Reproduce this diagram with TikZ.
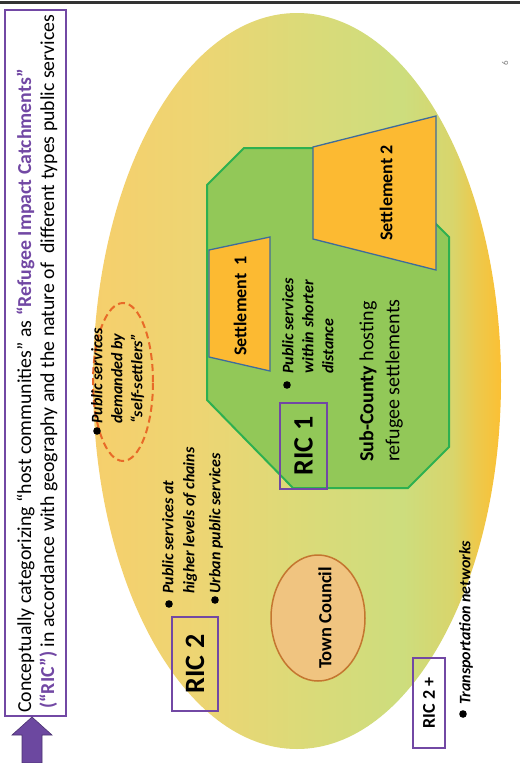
\documentclass[tikz,border=0pt]{standalone}
\usepackage{fontspec}
\setmainfont{Carlito}
\usetikzlibrary{arrows.meta,shapes.geometric}
\definecolor{ricpurple}{RGB}{114,72,164}
\definecolor{arrowpurple}{RGB}{108,72,160}
\definecolor{subgreen}{RGB}{146,200,88}
\definecolor{subedge}{RGB}{45,176,80}
\definecolor{settfill}{RGB}{252,186,50}
\definecolor{settedge}{RGB}{62,108,155}
\definecolor{tcfill}{RGB}{240,196,128}
\definecolor{tcedge}{RGB}{196,118,48}
\definecolor{dashorange}{RGB}{232,106,40}
\definecolor{ea}{HTML}{F6CF6C}
\definecolor{eb}{HTML}{EDD573}
\definecolor{ec}{HTML}{DCDA78}
\definecolor{ed}{HTML}{CDDD7D}
\definecolor{ee}{HTML}{D8D56C}
\definecolor{ef}{HTML}{EDC94C}
\definecolor{eg}{HTML}{FBC034}
\pgfdeclarehorizontalshading{ellshade}{100bp}{color(0bp)=(ea); color(25bp)=(ea); color(38bp)=(eb); color(50bp)=(ec); color(63bp)=(ed); color(69bp)=(ee); color(72bp)=(ef); color(75bp)=(eg); color(100bp)=(eg)}
\tikzset{
  ricbox/.style={draw=ricpurple, line width=2.5pt, rotate=90, inner sep=0pt, font=\bfseries\fontsize{28}{30}\selectfont},
  setlabel/.style={rotate=90, inner sep=0pt, font=\bfseries\fontsize{18}{20}\selectfont},
  btxt/.style={rotate=90, align=left, inner sep=0pt, anchor=north west, font=\bfseries\itshape\fontsize{16}{20}\selectfont},
  settshape/.style={draw=settedge, line width=1.3pt, fill=settfill},
  bul/.style={fill=black},
  titletxt/.style={rotate=90, anchor=base west, inner sep=0pt, font=\fontsize{19.8}{22}\selectfont}
}
\begin{document}
\begin{tikzpicture}[x=1pt,y=-1pt]
\useasboundingbox (0,0) rectangle (520,763);
% top rule
\draw[line width=3pt, black!80] (0,2) -- (520,2);
% big ellipse
\shade[shading=ellshade] (297,381) ellipse [x radius=204pt, y radius=368pt];
% sub-county
\draw[subedge, line width=2pt, fill=subgreen] (244,148) -- (360,148) -- (449,237) -- (449,447) -- (408,488) -- (293,488) -- (207,400) -- (207,185) -- cycle;
% settlements
\draw[settshape] (209,250) -- (270,237) -- (270,371) -- (209,357) -- cycle;
\draw[settshape] (313,147) -- (436,116) -- (436,270) -- (313,239) -- cycle;
\node[setlabel] (s1) at (240,306) {Settlement\ \ 1};
\node[setlabel] (s2) at (386,193) {Settlement 2};
% town council
\draw[tcedge, line width=1.5pt, fill=tcfill] (318,618) ellipse [x radius=47pt, y radius=63pt];
\node[setlabel, font=\bfseries\fontsize{18.5}{20}\selectfont] (tc) at (325,618) {Town Council};
% dashed ellipse
\draw[dashorange, line width=2pt, dash pattern=on 7pt off 4pt] (123,382) ellipse [x radius=30pt, y radius=79pt];
% sub-county text
\node[rotate=90, align=left, inner sep=0pt, anchor=west, font=\fontsize{20}{26}\selectfont] (sc) at (381,462) {\textbf{Sub-County} hosting\\refugee settlements};
% RIC boxes
\node[ricbox, minimum width=86pt, minimum height=47pt] (ric1) at (303.5,446) {RIC 1};
\node[ricbox, minimum width=94pt, minimum height=46pt] (ric2) at (195,664) {RIC 2};
\node[ricbox, minimum width=90pt, minimum height=32pt, font=\bfseries\fontsize{18}{20}\selectfont] (ric2p) at (429,703) {RIC 2 +};
% bullet texts
\fill[bul] (97,431) circle (3.8pt);
\node[btxt] (b0) at (91,424) {Public services\\demanded by\\“self-settlers”};
\fill[bul] (287,385) circle (3.8pt);
\node[btxt] (b1) at (282,374) {Public services\\within shorter\\distance};
\fill[bul] (169,604) circle (3.8pt);
\node[btxt, font=\bfseries\itshape\fontsize{16}{21}\selectfont] (b2) at (162,594) {Public services at\\higher levels of chains};
\fill[bul] (215,600) circle (3.8pt);
\node[btxt] (b3) at (209,594) {Urban public services};
\fill[bul] (463,714) circle (3.8pt);
\node[btxt] (b4) at (459,705) {Transportation networks};
% title box
\draw[ricpurple, line width=2.5pt] (5,10) rectangle (66,716);
\node[titletxt] (t1) at (31,713) {Conceptually categorizing “host communities” as \textcolor{ricpurple}{\textbf{“Refugee Impact Catchments”}}};
\node[titletxt] (t2) at (54,709) {\textcolor{ricpurple}{\textbf{(“RIC”)}} in accordance with geography and the nature of\ \ different types public services};
% arrow
\draw[arrowpurple!70!black, fill=arrowpurple, line width=0.6pt] (32,717) -- (52,735) -- (42,735) -- (42,763) -- (22,763) -- (22,735) -- (12,735) -- cycle;
% page number
\node[rotate=90, text=gray, font=\fontsize{9}{10}\selectfont] (pg) at (505,63) {6};
\end{tikzpicture}
\end{document}
